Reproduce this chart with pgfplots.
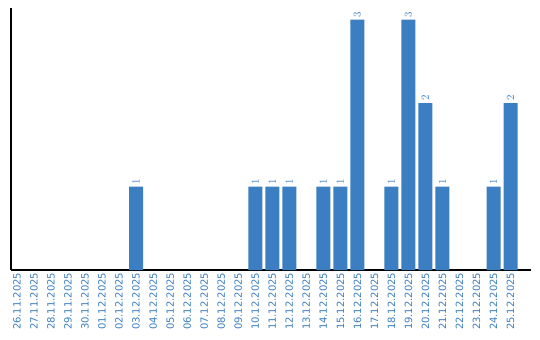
\documentclass[border=0pt]{standalone}
\usepackage{pgfplots}
\pgfplotsset{compat=1.18}
\usepackage{fontspec}
\setmainfont{DejaVu Sans}
\definecolor{barblue}{RGB}{59,126,194}
\begin{document}
\begin{tikzpicture}
\begin{axis}[
  scale only axis,
  width=520bp, height=262bp,
  xmin=-0.35, xmax=30.2,
  ymin=0, ymax=3.14,
  axis x line=bottom, axis y line=left,
  axis line style={black, line width=1.2pt, -},
  ytick=\empty,
  xtick={0,...,29},
  xticklabels={26.11.2025,27.11.2025,28.11.2025,29.11.2025,30.11.2025,01.12.2025,02.12.2025,03.12.2025,04.12.2025,05.12.2025,06.12.2025,07.12.2025,08.12.2025,09.12.2025,10.12.2025,11.12.2025,12.12.2025,13.12.2025,14.12.2025,15.12.2025,16.12.2025,17.12.2025,18.12.2025,19.12.2025,20.12.2025,21.12.2025,22.12.2025,23.12.2025,24.12.2025,25.12.2025},
  x tick label style={rotate=90, anchor=east, font=\fontsize{10bp}{11bp}\selectfont, text=barblue, inner sep=2.5bp},
  major tick length=0pt,
  ybar, bar width=14bp,
  nodes near coords,
  every node near coord/.append style={rotate=90, anchor=west, font=\fontsize{10.5bp}{11bp}\selectfont, text=barblue, inner sep=2bp},
  clip=false,
]
\addplot[fill=barblue, draw=none] coordinates {
(7,1) (14,1) (15,1) (16,1) (18,1) (19,1) (20,3) (22,1) (23,3) (24,2) (25,1) (28,1) (29,2)
};
\end{axis}
\pgfresetboundingbox
\useasboundingbox (-11bp,-70bp) rectangle (529bp,270bp);
\end{tikzpicture}
\end{document}
